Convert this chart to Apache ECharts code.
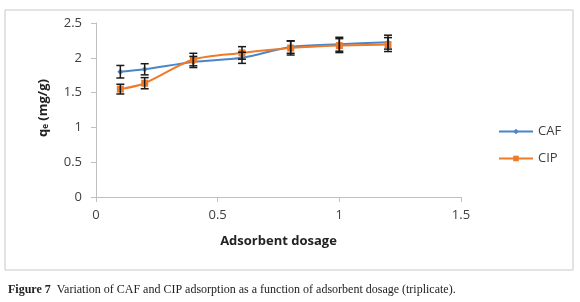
<!DOCTYPE html>
<html>
<head>
<meta charset="utf-8">
<script src="https://cdn.jsdelivr.net/npm/echarts@6/dist/echarts.min.js"></script>
<style>
  html, body { margin: 0; padding: 0; background: #fff; }
  #chart { width: 580px; height: 302px; }
</style>
</head>
<body>
<div id="chart"></div>
<script>
// adsorbent dosage values
const dosage = [0.1, 0.2, 0.4, 0.6, 0.8, 1.0, 1.2];
const cafValues = [1.80, 1.835, 1.94, 2.00, 2.155, 2.195, 2.225];
const cipValues = [1.55, 1.635, 1.975, 2.07, 2.14, 2.175, 2.19];
// triplicate error (+/-)
const cafError = [0.09, 0.08, 0.08, 0.08, 0.09, 0.10, 0.10];
const cipError = [0.07, 0.08, 0.09, 0.09, 0.10, 0.10, 0.10];
const xTicks = [0, 0.5, 1, 1.5];
const yTicks = [0, 0.5, 1, 1.5, 2, 2.5];

const chart = echarts.init(document.getElementById('chart'));

const toPairs = vals => dosage.map((d, i) => [d, vals[i]]);
const toErr = (vals, err) => dosage.map((d, i) => [d, vals[i] - err[i], vals[i] + err[i]]);

function errorBar(params, api) {
  const x = api.value(0);
  const lo = api.coord([x, api.value(1)]);
  const hi = api.coord([x, api.value(2)]);
  const w = 4;
  const style = { stroke: '#1a1a1a', lineWidth: 1.5 };
  return {
    type: 'group',
    children: [
      { type: 'line', shape: { x1: lo[0], y1: lo[1], x2: hi[0], y2: hi[1] }, style },
      { type: 'line', shape: { x1: lo[0] - w, y1: lo[1], x2: lo[0] + w, y2: lo[1] }, style },
      { type: 'line', shape: { x1: hi[0] - w, y1: hi[1], x2: hi[0] + w, y2: hi[1] }, style }
    ]
  };
}

const labelColor = '#404040';

chart.setOption({
  animation: false,
  graphic: [
    {
      type: 'rect',
      shape: { x: 5, y: 10, width: 568, height: 260 },
      style: { fill: 'none', stroke: '#c8c8c8', lineWidth: 1 },
      z: -1
    },
    {
      type: 'text',
      left: 8,
      top: 284,
      style: {
        text: '{b|Figure 7}  Variation of CAF and CIP adsorption as a function of adsorbent dosage (triplicate).',
        font: '12px "Liberation Serif", serif',
        fill: '#222',
        rich: {
          b: { fontWeight: 'bold', fontFamily: '"Liberation Serif", serif', fontSize: 12, fill: '#222' }
        }
      }
    },
    {
      type: 'text',
      x: 43,
      y: 108,
      rotation: Math.PI / 2,
      style: {
        text: '{t|q}{s|e}{t| (mg/g)}',
        align: 'center',
        verticalAlign: 'middle',
        rich: {
          t: { fontWeight: 'bold', fontSize: 13, fontFamily: '"Open Sans", sans-serif', fill: '#222' },
          s: { fontWeight: 'bold', fontSize: 8, fontFamily: '"Open Sans", sans-serif', fill: '#222', padding: [6, 0, 0, 0] }
        }
      }
    }
  ],
  grid: { left: 96, right: 119, top: 23, bottom: 105, containLabel: false },
  legend: {
    orient: 'vertical',
    left: 493,
    top: 120,
    itemGap: 14,
    itemWidth: 34,
    itemHeight: 7,
    textStyle: { fontSize: 13, color: labelColor, fontFamily: '"Open Sans", sans-serif' },
    data: ['CAF', 'CIP']
  },
  xAxis: {
    type: 'value',
    min: 0,
    max: 1.5,
    interval: 0.5,
    name: 'Adsorbent dosage',
    nameLocation: 'middle',
    nameGap: 38,
    nameTextStyle: { fontWeight: 'bold', fontSize: 13, color: '#222', fontFamily: '"Open Sans", sans-serif' },
    axisLine: { lineStyle: { color: '#bfbfbf' } },
    axisTick: { show: true, length: 5, lineStyle: { color: '#bfbfbf' } },
    splitLine: { show: false },
    axisLabel: {
      color: labelColor, fontSize: 13, margin: 12, fontFamily: '"Open Sans", sans-serif',
      formatter: v => xTicks.includes(+v.toFixed(2)) ? String(+v.toFixed(2)) : ''
    }
  },
  yAxis: {
    type: 'value',
    min: 0,
    max: 2.5,
    interval: 0.5,
    axisLine: { show: true, lineStyle: { color: '#bfbfbf' } },
    axisTick: { show: true, length: 5, lineStyle: { color: '#bfbfbf' } },
    splitLine: { show: false },
    axisLabel: {
      color: labelColor, fontSize: 13, margin: 14, fontFamily: '"Open Sans", sans-serif',
      formatter: v => yTicks.includes(+v.toFixed(2)) ? String(+v.toFixed(2)) : ''
    }
  },
  series: [
    {
      name: 'CAF',
      type: 'line',
      smooth: 0.3,
      data: toPairs(cafValues),
      symbol: 'diamond',
      symbolSize: 6,
      lineStyle: { color: '#4a86c8', width: 2 },
      itemStyle: { color: '#4a86c8' },
      z: 3
    },
    {
      name: 'CIP',
      type: 'line',
      smooth: 0.3,
      data: toPairs(cipValues),
      symbol: 'rect',
      symbolSize: 7,
      lineStyle: { color: '#ee7b2a', width: 2 },
      itemStyle: { color: '#ee7b2a' },
      z: 3
    },
    {
      type: 'custom',
      renderItem: errorBar,
      data: toErr(cafValues, cafError),
      encode: { x: 0, y: [1, 2] },
      z: 4
    },
    {
      type: 'custom',
      renderItem: errorBar,
      data: toErr(cipValues, cipError),
      encode: { x: 0, y: [1, 2] },
      z: 4
    }
  ]
});
</script>
</body>
</html>
